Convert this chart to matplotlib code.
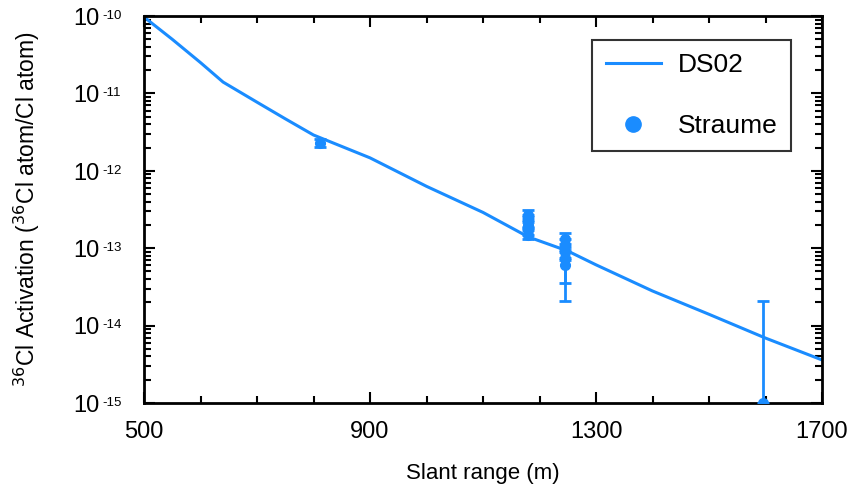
import matplotlib
matplotlib.use("Agg")
import matplotlib.pyplot as plt
import numpy as np
from matplotlib.lines import Line2D
from matplotlib.ticker import LogLocator, MultipleLocator, FixedLocator, NullFormatter

plt.rcParams['font.family'] = ['Liberation Sans', 'DejaVu Sans']

# DS02 calculation
ds02_x = [500, 550, 600, 640, 700, 750, 800, 900, 1000, 1100, 1180, 1250, 1300, 1400, 1500, 1600, 1700]
ds02_y = [9.7e-11, 5.0e-11, 2.5e-11, 1.4e-11, 7.7e-12, 4.7e-12, 2.9e-12, 1.47e-12, 6.3e-13, 2.9e-13,
          1.4e-13, 9.2e-14, 6.1e-14, 2.8e-14, 1.4e-14, 6.9e-15, 3.6e-15]

# Straume measurements
st_x = [811, 1180, 1180, 1180, 1180, 1180, 1245, 1245, 1245, 1245, 1245, 1595]
st_y = [2.3e-12, 2.7e-13, 2.4e-13, 2.0e-13, 1.7e-13, 1.5e-13,
        1.3e-13, 1.1e-13, 9.0e-14, 7.5e-14, 6.0e-14, 1.0e-15]
st_lo = [2.05e-12, 2.5e-13, 2.2e-13, 1.8e-13, 1.5e-13, 1.3e-13,
         1.15e-13, 9.5e-14, 7.5e-14, 3.6e-14, 2.1e-14, 1.0e-15]
st_hi = [2.6e-12, 3.1e-13, 2.7e-13, 2.3e-13, 1.9e-13, 1.7e-13,
         1.58e-13, 1.3e-13, 1.05e-13, 9.0e-14, 7.0e-14, 2.1e-14]

ytick_vals = [1e-15, 1e-14, 1e-13, 1e-12, 1e-11, 1e-10]
ytick_exp = ['-15', '-14', '-13', '-12', '-11', '-10']
xtick_vals = [500, 900, 1300, 1700]

color = '#1a8cff'

fig = plt.figure(figsize=(8.55, 4.9), dpi=100)
ax = fig.add_axes([144/855, 1 - 403/490, (822-144)/855, (403-16)/490])

line, = ax.plot(ds02_x, ds02_y, color=color, lw=2.2)
yerr = [np.array(st_y) - np.array(st_lo), np.array(st_hi) - np.array(st_y)]
ax.errorbar(st_x, st_y, yerr=yerr, fmt='o', color=color, ms=7, capsize=4.5, capthick=2,
            elinewidth=2, zorder=3)

ax.set_yscale('log')
ax.set_xlim(500, 1700)
ax.set_ylim(1e-15, 1e-10)

ax.xaxis.set_major_locator(FixedLocator(xtick_vals))
ax.xaxis.set_minor_locator(MultipleLocator(100))
ax.yaxis.set_major_locator(FixedLocator(ytick_vals))
ax.yaxis.set_minor_locator(LogLocator(base=10, subs=np.arange(2, 10), numticks=20))
ax.yaxis.set_major_formatter(NullFormatter())
ax.yaxis.set_minor_formatter(NullFormatter())

ax.tick_params(which='both', direction='in', top=True, right=True, width=1.5)
ax.tick_params(which='major', length=8)
ax.tick_params(which='minor', length=5)
ax.tick_params(axis='x', which='major', labelsize=17, pad=13)
for s in ax.spines.values():
    s.set_linewidth(2)

# y tick labels as "10" with small raised exponent
for v, e in zip(ytick_vals, ytick_exp):
    ax.annotate('10', xy=(0, v), xycoords=('axes fraction', 'data'),
                xytext=(-32, -2), textcoords='offset points',
                ha='right', va='center', fontsize=17, annotation_clip=False)
    ax.annotate(e, xy=(0, v), xycoords=('axes fraction', 'data'),
                xytext=(-30, 4.5), textcoords='offset points',
                ha='left', va='top', fontsize=9.5, annotation_clip=False)

ax.set_xlabel('Slant range (m)', fontsize=16, labelpad=14)
ax.set_ylabel(r'$^{36}$Cl Activation ($^{36}$Cl atom/Cl atom)', fontsize=16.5)
ax.yaxis.set_label_coords(-0.150, 0.5)

proxy = Line2D([], [], color=color, marker='o', ls='none', ms=11)
leg = ax.legend([line, proxy], ['DS02', 'Straume'], loc='upper center',
                bbox_to_anchor=(0.808, 0.938), fontsize=19, frameon=True,
                fancybox=False, edgecolor='black', labelspacing=1.4, handlelength=2.1,
                handletextpad=0.65, borderpad=0.5, borderaxespad=0)
leg.get_frame().set_linewidth(1.5)

fig.savefig('out.png', dpi=100)
